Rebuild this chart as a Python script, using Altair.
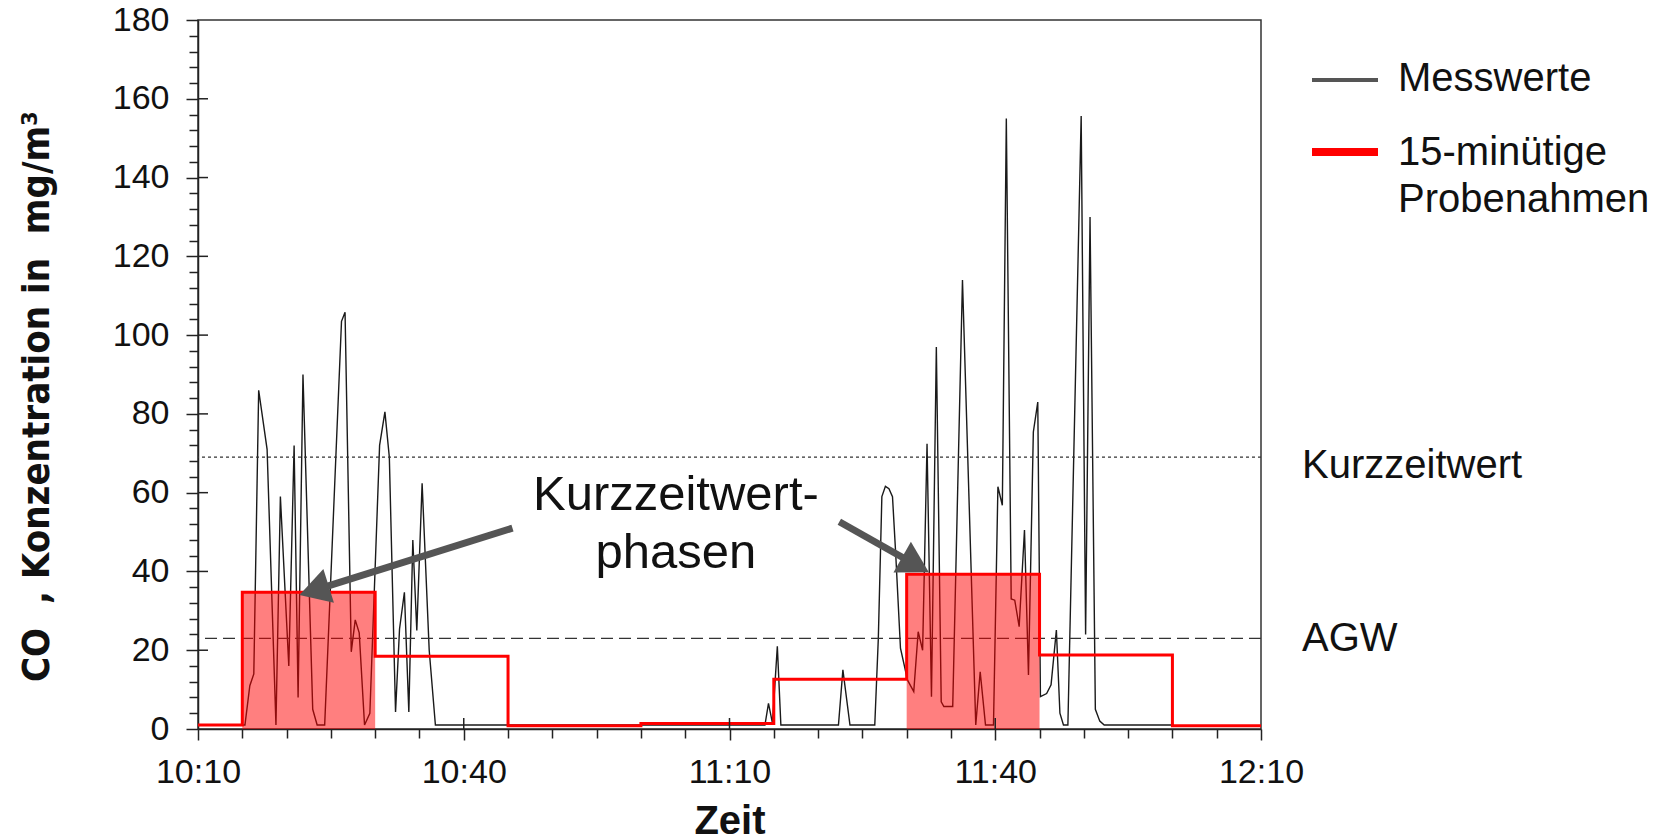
import altair as alt
import pandas as pd

# ---------------- data ----------------
# Messwerte: minutes after 10:10 and CO concentration in mg/m³
mess_min = [5.0, 5.3, 5.85, 6.3, 6.85, 7.8, 8.8, 9.3, 10.25, 10.85,
            11.3, 11.85, 12.95, 13.45, 14.3, 16.2, 16.6, 17.3, 17.75, 18.2,
            18.8, 19.4, 20.5, 21.1, 21.6, 22.3, 22.75, 23.3, 23.8, 24.25,
            24.7, 25.3, 26.1, 26.8,
            64.0, 64.4, 64.85, 65.4, 65.8, 72.3, 72.8, 73.6, 76.4, 76.8,
            77.2, 77.6, 78.0, 78.4, 78.75, 79.3, 80.1, 80.8, 81.3,
            81.8, 82.3, 82.8, 83.35, 83.9, 84.2, 85.2, 86.3, 87.8, 88.3,
            88.9, 89.8, 90.3, 90.8, 91.25, 91.8, 92.2, 92.7, 93.3, 93.75,
            94.3, 94.8, 95.1, 95.8, 96.3, 96.9, 97.3, 97.7, 98.2, 99.7,
            100.2, 100.7, 101.3, 101.8, 102.3, 110.0]
mess_val = [1.0, 1.0, 11, 14, 86, 71, 1, 59, 16, 72,
            8, 90, 5, 1, 1, 103.5, 105.8, 19.6, 27.7, 24.4,
            1, 4, 72, 80.5, 69, 4.3, 25.4, 34.7, 4.3, 48,
            25, 62.4, 20, 1,
            1, 6.5, 1.5, 21, 1, 1, 15, 1, 1, 23,
            59, 61.6, 61, 59, 45, 20.5, 12.4, 9.5, 24.7,
            20, 72.4, 8.2, 97, 6.9, 5.7, 5.7, 114, 1, 14.5,
            1, 1, 61.5, 56.8, 155, 33, 32.7, 26, 50.5, 13.7,
            75.4, 83, 8.2, 9, 11.2, 25.1, 4, 1, 1, 155.6,
            24, 130, 5, 2, 1, 1]

# 15-minütige Probenahmen (minutes after 10:10)
probe_start = [0, 5, 20, 35, 50, 65, 80, 95, 110]
probe_end = [5, 20, 35, 50, 65, 80, 95, 110, 120]
probe_val = [1.0, 34.7, 18.5, 0.8, 1.4, 12.6, 39.3, 18.8, 0.8]
probe_phase = [False, True, False, False, False, False, True, False, False]

# limit values
limit_names = ["Kurzzeitwert", "AGW"]
limit_vals = [69.0, 23.0]

# annotation arrows (tail -> head), minutes after 10:10 / mg/m³
arrow_tail_min = [35.5, 72.4]
arrow_tail_val = [51.0, 52.6]
arrow_head_min = [13.1, 81.0]
arrow_head_val = [35.2, 41.7]
arrow_angle = [252.6, 119.5]

annot_min = 53.95
annot_val = 55.6
annot_text = "Kurzzeitwert-\nphasen"

x_ticks_min = list(range(0, 121, 5))
y_ticks = list(range(0, 181, 4))
y_major = list(range(20, 161, 20))
x_major_inner = [30, 60, 90]

# ---------------- helpers ----------------
BASE = pd.Timestamp("2021-03-01 10:10:00")


def t(m):
    return BASE + pd.to_timedelta(m, unit="min")


def dt(m):
    tt = t(m)
    return alt.DateTime(year=tt.year, month=tt.month, date=tt.day,
                        hours=tt.hour, minutes=tt.minute, seconds=tt.second)


W, H = 1063, 709
FONT = "Liberation Sans"
TXT = "#111111"
AX = "#222222"

mess = pd.DataFrame({"time": [t(m) for m in mess_min], "value": mess_val})

step_times = probe_start + [probe_end[-1]]
step_vals = probe_val + [probe_val[-1]]
steps = pd.DataFrame({"time": [t(m) for m in step_times], "value": step_vals})

phases = pd.DataFrame({
    "time": [t(s) for s, p in zip(probe_start, probe_phase) if p],
    "end": [t(e) for e, p in zip(probe_end, probe_phase) if p],
    "value": [v for v, p in zip(probe_val, probe_phase) if p],
})

limits = pd.DataFrame({"name": limit_names, "value": limit_vals})

arrows = pd.DataFrame({
    "id": [0, 1, 0, 1],
    "order": [0, 0, 1, 1],
    "time": [t(m) for m in arrow_tail_min] + [t(m) for m in arrow_head_min],
    "value": arrow_tail_val + arrow_head_val,
})
heads = pd.DataFrame({"time": [t(m) for m in arrow_head_min],
                      "value": arrow_head_val, "angle": arrow_angle})

xscale = alt.Scale(domain=[dt(0), dt(120)], nice=False)
yscale = alt.Scale(domain=[0, 180], nice=False, zero=True)

x_test = "minutes(datum.value) % 30 == 10"
y_test = "datum.value % 20 == 0"

x_axis = alt.Axis(
    values=[dt(m) for m in x_ticks_min],
    labelExpr=f"{x_test} ? timeFormat(datum.value, '%H:%M') : ''",
    labelFlush=False, labelOverlap=False,
    tickSize={"condition": {"test": x_test, "value": 11}, "value": 9},
    tickColor=AX, tickWidth=1.5, domainColor=AX, domainWidth=1.5,
    labelFont=FONT, labelFontSize=34, labelColor=TXT, labelPadding=15,
    grid=False,
    title="Zeit", titleFont=FONT, titleFontSize=40, titleFontWeight="bold",
    titleColor=TXT, titleY=92, titleBaseline="middle",
)
NB = "\u00a0"
y_axis = alt.Axis(
    values=y_ticks,
    labelExpr=f"{y_test} ? datum.label : ''",
    labelFlush=False, labelOverlap=False,
    tickSize={"condition": {"test": y_test, "value": 12}, "value": 9},
    tickColor=AX, tickWidth=1.5, domainColor=AX, domainWidth=1.5,
    labelFont=FONT, labelFontSize=34, labelColor=TXT, labelPadding=17,
    grid=False,
    title=f"CO{NB}{NB}, Konzentration in{NB}{NB}mg/m³",
    titleFont="Liberation Sans Narrow, DejaVu Sans Condensed, Liberation Sans",
    titleFontSize=38, titleFontWeight="bold", titleColor=TXT,
    titleX=-161, titleY=376, titleAngle=270,
    titleAlign="center", titleBaseline="middle",
)

# the same axis definition in every layer, so that the merged axes keep it
XS = alt.X("time:T", scale=xscale, axis=x_axis)
YS = alt.Y("value:Q", scale=yscale, axis=y_axis)

mess_line = alt.Chart(mess).mark_line(color="#1a1a1a", strokeWidth=1.4).encode(
    x=XS, y=YS)

limit_rules = alt.Chart(limits).mark_rule(color="#333333", strokeWidth=1.3).encode(
    y=YS,
    strokeDash=alt.StrokeDash("name:N", scale=alt.Scale(
        domain=limit_names, range=[[3, 3], [12, 6]]), legend=None),
)

phase_fill = alt.Chart(phases).mark_rect(color="#ff0000", opacity=0.5).encode(
    x=XS, x2="end:T", y=YS, y2=alt.datum(0),
)

step_line = alt.Chart(steps).mark_line(
    color="#ff0000", strokeWidth=3, interpolate="step-after").encode(x=XS, y=YS)

inner_y = alt.Chart(pd.DataFrame({"value": y_major})).mark_rule(
    color=AX, strokeWidth=1.5).encode(y=YS, x=alt.value(0), x2=alt.value(10))
inner_x = alt.Chart(pd.DataFrame({"time": [t(m) for m in x_major_inner]})).mark_rule(
    color=AX, strokeWidth=1.5).encode(x=XS, y=alt.value(H), y2=alt.value(H - 11))

arrow_lines = alt.Chart(arrows).mark_line(
    color="#555555", strokeWidth=7, strokeCap="butt").encode(
    x=XS, y=YS, detail="id:N", order="order:Q")
arrow_heads = alt.Chart(heads).mark_point(
    shape="triangle-up", filled=True, size=1250, color="#555555", opacity=1,
    strokeWidth=0).encode(x=XS, y=YS, angle=alt.Angle("angle:Q", scale=None))

annot = alt.Chart(pd.DataFrame({"time": [t(annot_min)], "value": [annot_val],
                                "txt": [annot_text]})).mark_text(
    font=FONT, fontSize=49, color=TXT, align="center", baseline="alphabetic",
    lineBreak="\n", lineHeight=58).encode(x=XS, y=YS, text="txt:N")

kzw_label = alt.Chart(limits.iloc[[0]]).mark_text(
    font=FONT, fontSize=40, color=TXT, align="left", baseline="middle", dy=9).encode(
    x=alt.value(W + 41), y=YS, text="name:N")
agw_label = alt.Chart(limits.iloc[[1]]).mark_text(
    font=FONT, fontSize=40, color=TXT, align="left", baseline="middle", dy=1).encode(
    x=alt.value(W + 41), y=YS, text="name:N")


def legend_text(txt, y):
    return alt.Chart(pd.DataFrame({"t": [txt]})).mark_text(
        font=FONT, fontSize=40, color=TXT, align="left", baseline="middle").encode(
        x=alt.value(W + 137), y=alt.value(y), text="t:N")


def legend_line(color, width, y):
    return alt.Chart(pd.DataFrame({"a": [0]})).mark_rule(
        color=color, strokeWidth=width).encode(
        x=alt.value(W + 51), x2=alt.value(W + 117), y=alt.value(y))


legend = (legend_line("#555555", 4, 60) + legend_line("#ff0000", 8, 132)
          + legend_text("Messwerte", 59) + legend_text("15-minütige", 133)
          + legend_text("Probenahmen", 180))

chart = alt.layer(
    mess_line, limit_rules, phase_fill, step_line, inner_y, inner_x,
    arrow_lines, arrow_heads, annot, kzw_label, agw_label, legend,
).properties(
    width=W, height=H,
    autosize=alt.AutoSizeParams(type="none"),
    padding={"left": 198, "top": 20, "right": 1666 - 198 - W, "bottom": 840 - 20 - H},
    background="white",
).configure_view(stroke="#333333", strokeWidth=1.5)

chart.save("out.html", embed_options={"renderer": "svg", "actions": False})
